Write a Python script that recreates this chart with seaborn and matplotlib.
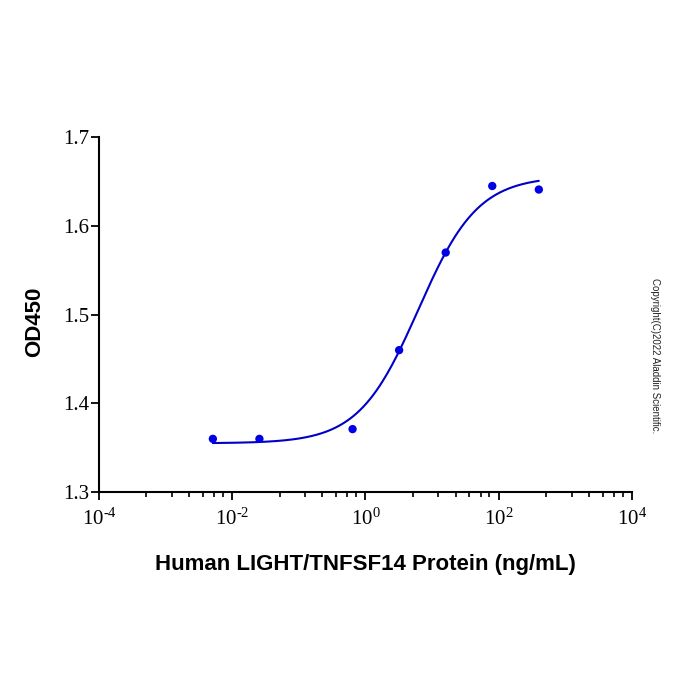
import numpy as np
import pandas as pd
import matplotlib
matplotlib.use("Agg")
import matplotlib.pyplot as plt
import seaborn as sns
from matplotlib.ticker import FixedLocator, FuncFormatter

# ---- data ----
concentration = [0.00512, 0.0256, 0.64, 3.2, 16, 80, 400]   # ng/mL
od450 = [1.360, 1.360, 1.371, 1.460, 1.570, 1.645, 1.641]
# 4PL fit parameters (bottom, top, EC50, hill)
fit_bottom = 1.355
fit_top = 1.656
fit_ec50 = 6.2
fit_hill = 0.97

xtick_exponents = [-4, -2, 0, 2, 4]
yticks = [1.3, 1.4, 1.5, 1.6, 1.7]

sns.set_theme(style="white")
plt.rcParams["mathtext.fontset"] = "custom"
plt.rcParams["mathtext.rm"] = "Liberation Serif"
plt.rcParams["mathtext.it"] = "Liberation Serif"

fig = plt.figure(figsize=(7, 7), dpi=100)
ax = fig.add_axes([0.1414, 0.297, 0.7614, 0.507])

df = pd.DataFrame({"conc": concentration, "od": od450})
xs = np.logspace(np.log10(min(concentration)), np.log10(max(concentration)), 300)
ys = fit_bottom + (fit_top - fit_bottom) / (1 + (fit_ec50 / xs) ** fit_hill)
curve = pd.DataFrame({"conc": xs, "od": ys})

sns.lineplot(data=curve, x="conc", y="od", ax=ax, color="#0000C8", linewidth=1.5)
sns.scatterplot(data=df, x="conc", y="od", ax=ax, color="#0000E6", s=36,
                edgecolor="none", zorder=3)

ax.set_xscale("log")
ax.set_xlim(1e-4, 1e4)
ax.set_ylim(1.3, 1.7)


def fmt_pow(v, p):
    e = int(round(np.log10(v)))
    if e < 0:
        return r"$\mathregular{10^{\text{-}%d}}$" % (-e)
    return r"$\mathregular{10^{%d}}$" % e


ax.xaxis.set_major_locator(FixedLocator([10.0 ** e for e in xtick_exponents]))
ax.xaxis.set_major_formatter(FuncFormatter(fmt_pow))
minor_frac = [0.355, 0.548, 0.677, 0.78, 0.865, 0.93]
minors = []
for e in xtick_exponents[:-1]:
    for f in minor_frac:
        minors.append(10.0 ** (e + 2 * f))
ax.xaxis.set_minor_locator(FixedLocator(minors))
ax.xaxis.set_minor_formatter(FuncFormatter(lambda v, p: ""))
ax.set_yticks(yticks)
ax.set_yticklabels([f"{v:.1f}" for v in yticks])

for lab in ax.get_xticklabels() + ax.get_yticklabels():
    lab.set_fontfamily("Liberation Serif")
    lab.set_fontsize(15)
    lab.set_color("black")

ax.tick_params(axis="both", which="major", direction="out", length=6, width=1.3,
               color="black", bottom=True, left=True)
ax.tick_params(axis="x", which="minor", direction="out", length=3.5, width=1.2,
               color="black", bottom=True)
ax.tick_params(axis="x", which="major", pad=6)
ax.tick_params(axis="y", which="major", pad=1)

for side in ["top", "right"]:
    ax.spines[side].set_visible(False)
for side in ["left", "bottom"]:
    ax.spines[side].set_color("black")
    ax.spines[side].set_linewidth(1.5)

ax.set_xlabel("Human LIGHT/TNFSF14 Protein (ng/mL)", fontsize=16,
              fontweight="bold", family="Liberation Sans", color="black")
ax.xaxis.label.set_va("baseline")
ax.xaxis.set_label_coords(0.5, -0.22)
ax.set_ylabel("OD450", fontsize=16, fontweight="bold", family="Liberation Sans",
              color="black")
ax.yaxis.label.set_va("center")
ax.yaxis.label.set_ha("center")
ax.yaxis.set_label_coords(-0.1206, 0.479)

fig.text(0.936, 0.492, "Copyright(C)2022 Aladdin Scientific.", rotation=-90,
         fontsize=7, family="Liberation Sans", ha="center", va="center",
         color="#222222")

fig.savefig("out.png", dpi=100, facecolor="white")
